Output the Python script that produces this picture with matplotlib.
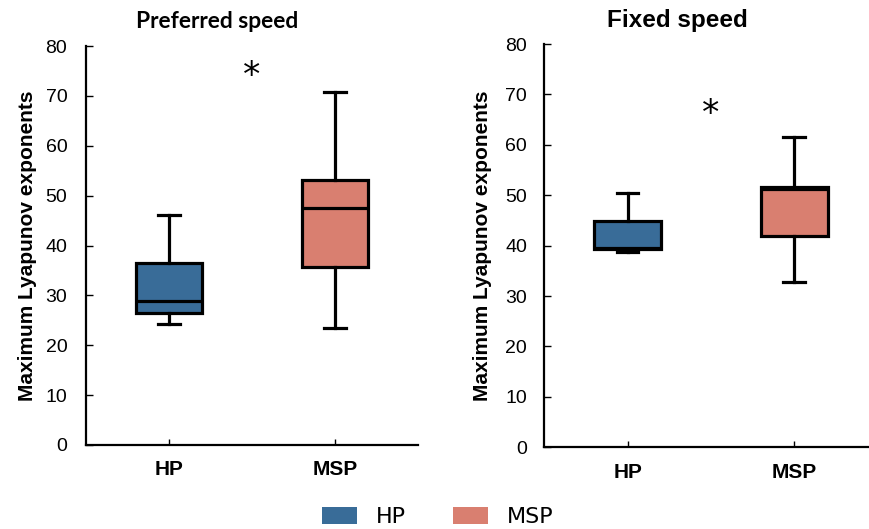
import matplotlib.pyplot as plt
from matplotlib.patches import Patch

groups = ['HP', 'MSP']
colors = ['#396c98', '#d97f70']

# preferred speed
pref_low = [24.2, 23.5]
pref_q1 = [26.4, 35.6]
pref_med = [28.9, 47.6]
pref_q3 = [36.5, 53.2]
pref_high = [46.2, 70.7]

# fixed speed
fix_low = [38.7, 32.7]
fix_q1 = [39.3, 41.9]
fix_med = [39.6, 51.2]
fix_q3 = [44.9, 51.7]
fix_high = [50.4, 61.6]

star_y = [74.1, 66.1]
titles = ['Preferred speed', 'Fixed speed']


def make_stats(low, q1, med, q3, high):
    stats = []
    for i in range(len(groups)):
        stats.append({'label': groups[i], 'whislo': low[i], 'q1': q1[i], 'med': med[i],
                      'q3': q3[i], 'whishi': high[i], 'fliers': []})
    return stats


fig = plt.figure(figsize=(8.7, 5.29), dpi=100)
ax1 = fig.add_axes([0.0989, 0.1588, 0.3816, 0.754])
ax2 = fig.add_axes([0.6256, 0.1544, 0.383, 0.7624])

panels = [
    (ax1, make_stats(pref_low, pref_q1, pref_med, pref_q3, pref_high), 13.5, -0.148),
    (ax2, make_stats(fix_low, fix_q1, fix_med, fix_q3, fix_high), 12.5, -0.157),
]

lw = 2.3
for k, (ax, stats, ypad, ylab_x) in enumerate(panels):
    bp = ax.bxp(stats, positions=[1, 2], widths=0.4, patch_artist=True, showfliers=False,
                boxprops=dict(linewidth=lw, edgecolor='black'),
                medianprops=dict(color='black', linewidth=lw),
                whiskerprops=dict(color='black', linewidth=lw),
                capprops=dict(color='black', linewidth=lw), capwidths=0.13)
    for patch, c in zip(bp['boxes'], colors):
        patch.set_facecolor(c)
    ax.set_xlim(0.5, 2.5)
    ax.set_ylim(0, 80)
    ax.set_yticks(range(0, 81, 10))
    ax.spines['top'].set_visible(False)
    ax.spines['right'].set_visible(False)
    ax.spines['left'].set_linewidth(1.6)
    ax.spines['bottom'].set_linewidth(1.6)
    ax.tick_params(axis='y', direction='in', length=5, width=1, pad=ypad, labelsize=14)
    ax.tick_params(axis='x', direction='in', length=4, width=1, pad=11, labelsize=15)
    for t in ax.get_yticklabels():
        t.set_fontfamily('Liberation Sans')
    for t in ax.get_xticklabels():
        t.set_fontfamily('Liberation Sans')
        t.set_fontweight('bold')
    ax.set_ylabel('Maximum Lyapunov exponents', fontsize=15, fontweight='bold',
                  family='Liberation Sans')
    ax.yaxis.set_label_coords(ylab_x, 0.5)
    ax.text(1.5, star_y[k], '*', ha='center', va='center', fontsize=25)

fig.text(217 / 870, 1 - 22 / 529, titles[0], ha='center', va='center', fontsize=16.4,
         fontweight='bold', family='Lato')
fig.text(677 / 870, 1 - 21 / 529, titles[1], ha='center', va='center', fontsize=17.5,
         fontweight='bold', family='Liberation Sans')

handles = [Patch(facecolor=c, label=g) for g, c in zip(groups, colors)]
fig.legend(handles=handles, loc='upper center', bbox_to_anchor=(0.503, 0.062), ncol=2,
           frameon=False, fontsize=16, handlelength=1.6, handleheight=0.75,
           handletextpad=0.85, columnspacing=2.1, borderpad=0)

fig.savefig('out.png', dpi=100)
